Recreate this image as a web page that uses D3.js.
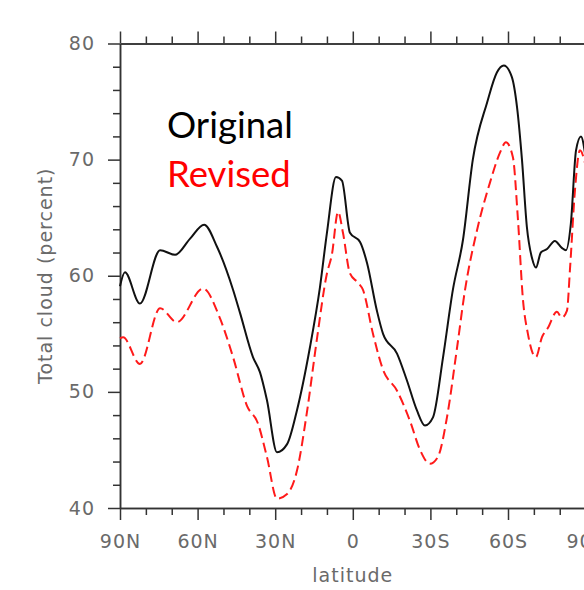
<!DOCTYPE html>
<html>
<head>
<meta charset="utf-8">
<script src="https://cdn.jsdelivr.net/npm/d3@7"></script>
<style>
  body { margin: 0; background: #fff; }
  .axis text { font-family: "DejaVu Sans", sans-serif; font-size: 19px; fill: #6a6a6a; letter-spacing: 1px; }
  .axis path, .axis line { stroke: #333; stroke-width: 1.5; }
</style>
</head>
<body>
<script>
// latitude (N positive) and total cloud (percent)
const origLat = [90, 88.1, 82.3, 74.5, 68.7, 62.9, 57.5, 52.5, 46.3, 43.6, 38.6, 35.9, 33.2, 29.3, 25.4, 21.6, 16.6, 12.7, 10.0, 6.5, 4.2, 1.1, -2.8, -5.5, -9.3, -11.7, -17.1, -20.9, -24.8, -27.9, -31.0, -34.9, -38.7, -42.6, -46.4, -51.9, -55.7, -58.4, -61.5, -63.5, -65.4, -67.3, -69.3, -70.8, -72.7, -75.1, -78.1, -80.8, -82.4, -84.3, -86.3, -88.2, -90];
const origCloud = [59.1, 60.3, 57.6, 62.2, 61.8, 63.2, 64.4, 62.5, 58.8, 56.8, 53.0, 51.7, 49.3, 44.8, 45.5, 48.4, 53.8, 59.0, 63.7, 68.5, 68.2, 63.7, 62.9, 61.1, 57.0, 55.0, 53.3, 51.0, 48.4, 47.1, 47.8, 53.0, 58.8, 63.1, 70.0, 74.9, 77.5, 78.1, 77.1, 74.5, 70.0, 64.2, 61.5, 60.7, 62.0, 62.3, 63.0, 62.4, 62.2, 64.5, 70.8, 72.0, 70.2];

const revLat = [90, 88.8, 82.3, 74.5, 68.0, 57.9, 51.3, 46.3, 40.9, 36.7, 33.2, 29.3, 25.4, 21.6, 17.7, 13.9, 10.0, 8.1, 5.7, 3.8, 1.1, -2.0, -3.9, -7.8, -11.7, -17.1, -22.1, -26.0, -29.8, -32.9, -36.4, -40.3, -43.4, -48.0, -53.0, -56.9, -59.2, -61.9, -63.8, -65.8, -67.7, -69.6, -70.8, -73.1, -75.4, -78.9, -80.8, -82.8, -84.0, -85.9, -87.8, -90];
const revCloud = [54.6, 54.7, 52.4, 57.2, 56.0, 58.9, 56.3, 53.0, 48.8, 47.3, 44.4, 40.8, 41.2, 43.2, 48.3, 54.5, 60.2, 61.8, 65.5, 63.7, 60.2, 59.4, 58.8, 55.0, 51.9, 50.1, 47.5, 45.0, 43.8, 44.4, 47.8, 53.8, 58.8, 63.9, 68.0, 70.6, 71.5, 70.2, 65.0, 57.9, 55.0, 53.3, 53.0, 54.7, 55.5, 56.9, 56.4, 57.0, 60.7, 67.4, 70.8, 69.5];

const xTicks = [90, 60, 30, 0, -30, -60, -90];
const yTicks = [40, 50, 60, 70, 80];
const legendLabels = ["Original", "Revised"];

const W = 584, H = 590;
const plotL = 120, plotR = 585.6, plotT = 43.5, plotB = 508;

const svg = d3.select("body").append("svg")
    .attr("width", W)
    .attr("height", H);

const x = d3.scaleLinear().domain([90, -90]).range([plotL, plotR]);
const y = d3.scaleLinear().domain([40, 80]).range([plotB, plotT]);

const latFmt = d => d === 0 ? "0" : Math.abs(d) + (d > 0 ? "N" : "S");
const xMinor = d3.range(90, -91, -10).filter(d => !xTicks.includes(d));
const yMinor = d3.range(40, 81, 2).filter(d => !yTicks.includes(d));

// minor ticks
svg.append("g").attr("class", "axis").attr("transform", `translate(0,${plotB})`)
    .call(d3.axisBottom(x).tickValues(xMinor).tickSize(7).tickSizeOuter(0).tickFormat(""));
svg.append("g").attr("class", "axis").attr("transform", `translate(0,${plotT})`)
    .call(d3.axisTop(x).tickValues(xMinor).tickSize(7).tickSizeOuter(0).tickFormat(""));
svg.append("g").attr("class", "axis").attr("transform", `translate(${plotL},0)`)
    .call(d3.axisLeft(y).tickValues(yMinor).tickSize(7).tickSizeOuter(0).tickFormat(""));
svg.append("g").attr("class", "axis").attr("transform", `translate(${plotR},0)`)
    .call(d3.axisRight(y).tickValues(yMinor).tickSize(7).tickSizeOuter(0).tickFormat(""));

// major ticks
svg.append("g").attr("class", "axis").attr("transform", `translate(0,${plotB})`)
    .call(d3.axisBottom(x).tickValues(xTicks).tickSize(12).tickSizeOuter(0).tickPadding(15).tickFormat(latFmt));
svg.append("g").attr("class", "axis").attr("transform", `translate(0,${plotT})`)
    .call(d3.axisTop(x).tickValues(xTicks).tickSize(12).tickSizeOuter(0).tickFormat(""));
svg.append("g").attr("class", "axis").attr("transform", `translate(${plotL},0)`)
    .call(d3.axisLeft(y).tickValues(yTicks).tickSize(12).tickSizeOuter(0).tickPadding(13));
svg.append("g").attr("class", "axis").attr("transform", `translate(${plotR},0)`)
    .call(d3.axisRight(y).tickValues(yTicks).tickSize(12).tickSizeOuter(0).tickFormat(""));

// axis titles
svg.append("text")
    .attr("transform", `translate(52,${(plotT + plotB) / 2}) rotate(-90)`)
    .attr("text-anchor", "middle")
    .style("font-family", "DejaVu Sans, sans-serif")
    .style("font-size", "19px")
    .style("letter-spacing", "1px")
    .style("fill", "#6a6a6a")
    .text("Total cloud (percent)");

svg.append("text")
    .attr("x", x(0))
    .attr("y", 582)
    .attr("text-anchor", "middle")
    .style("font-family", "DejaVu Sans, sans-serif")
    .style("font-size", "19px")
    .style("letter-spacing", "1px")
    .style("fill", "#6a6a6a")
    .text("latitude");

// lines
const line = d3.line()
    .x(d => x(d[0]))
    .y(d => y(d[1]))
    .curve(d3.curveMonotoneX);

svg.append("path")
    .datum(d3.zip(revLat, revCloud))
    .attr("d", line)
    .attr("fill", "none")
    .attr("stroke", "#ff1a1a")
    .attr("stroke-width", 2)
    .attr("stroke-dasharray", "10,5");

svg.append("path")
    .datum(d3.zip(origLat, origCloud))
    .attr("d", line)
    .attr("fill", "none")
    .attr("stroke", "#111")
    .attr("stroke-width", 2);

// legend
svg.selectAll(".legend")
    .data(legendLabels)
    .enter().append("text")
    .attr("class", "legend")
    .attr("x", 167)
    .attr("y", (d, i) => 138 + i * 49)
    .style("font-family", "Lato, 'Open Sans', sans-serif")
    .style("font-size", "36.5px")
    .style("fill", (d, i) => i === 0 ? "#000" : "#ff0000")
    .text(d => d);
</script>
</body>
</html>
